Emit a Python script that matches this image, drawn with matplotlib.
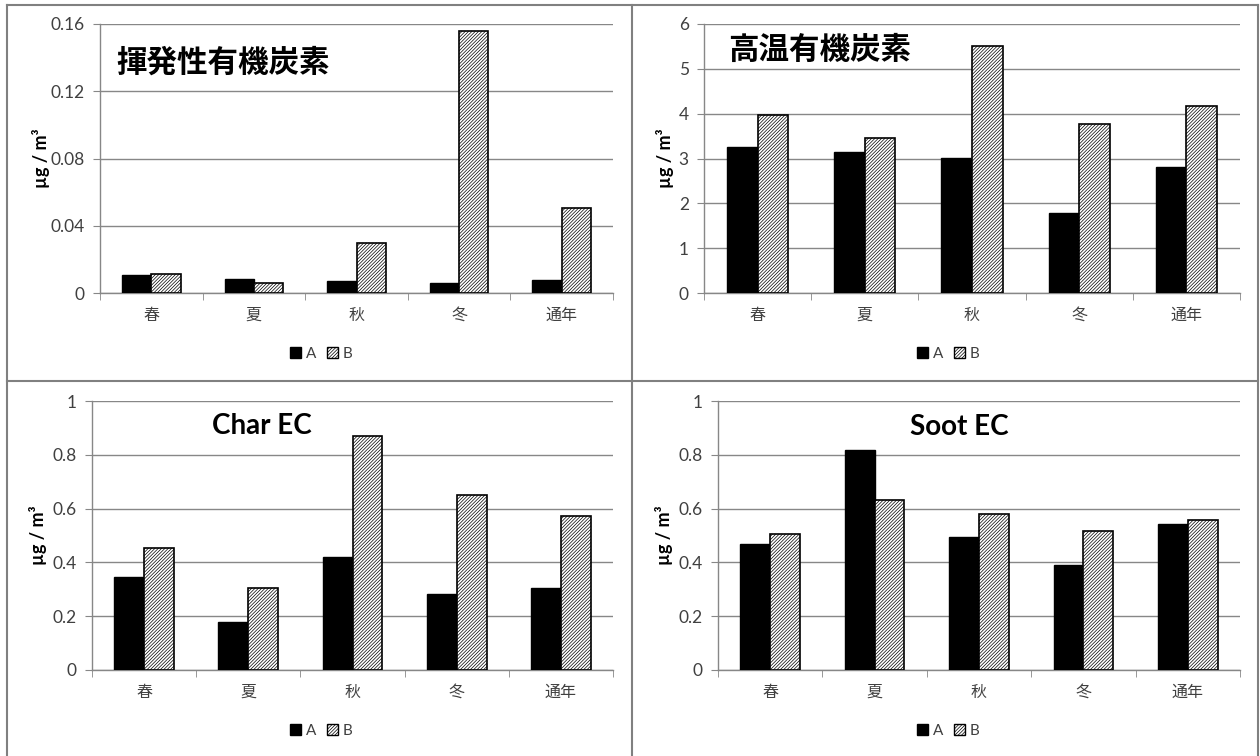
import numpy as np
import matplotlib.pyplot as plt
from matplotlib.lines import Line2D
from matplotlib.patches import Patch

plt.rcParams['font.family'] = ['Lato', 'Noto Sans CJK JP', 'DejaVu Sans']
plt.rcParams['hatch.linewidth'] = 0.5

seasons = ['春', '夏', '秋', '冬', '通年']
series = ['A', 'B']

voc_a = [0.0109, 0.0083, 0.0073, 0.0059, 0.0077]
voc_b = [0.0113, 0.0061, 0.0295, 0.1556, 0.0508]

hoc_a = [3.26, 3.15, 3.02, 1.78, 2.80]
hoc_b = [3.96, 3.46, 5.52, 3.77, 4.18]

char_a = [0.346, 0.178, 0.420, 0.284, 0.305]
char_b = [0.455, 0.304, 0.871, 0.651, 0.571]

soot_a = [0.467, 0.818, 0.494, 0.389, 0.541]
soot_b = [0.504, 0.633, 0.581, 0.518, 0.559]

W, H = 1260, 756
grey = '#878787'
txt = '#404040'
hatch = '//////////'


def px_rect(left, right, top, bottom):
    return [left / W, 1 - bottom / H, (right - left) / W, (bottom - top) / H]


def draw_panel(fig, rect, a, b, ymax, step, fmt, title, title_xy, title_font,
               legend_xy, label_off):
    ax = fig.add_axes(rect)
    x = np.arange(len(seasons))
    w = 0.286
    ax.bar(x - w / 2, a, w, color='black', edgecolor='black', linewidth=1, zorder=3)
    ax.bar(x + w / 2, b, w, color='white', edgecolor='black', linewidth=1.2,
           hatch=hatch, zorder=3)

    ax.set_xlim(-0.5, len(seasons) - 0.5)
    ax.set_ylim(0, ymax)
    yt = np.arange(0, ymax + step / 2, step)
    ax.set_yticks(yt)
    ax.set_yticklabels([fmt(v) for v in yt], fontsize=12.5, color=txt)
    ax.yaxis.grid(True, color=grey, linewidth=1)
    ax.set_axisbelow(True)

    ax.set_xticks(x)
    ax.set_xticklabels(seasons, fontsize=11.5, color=txt, family='Noto Sans CJK JP')
    ax.set_xticks(np.arange(-0.5, len(seasons)), minor=True)
    ax.tick_params(axis='x', which='major', length=0, pad=10)
    ax.tick_params(axis='x', which='minor', length=5, color=grey, direction='out')
    ax.tick_params(axis='y', length=5, color=grey, pad=6)

    for s in ['top', 'right']:
        ax.spines[s].set_visible(False)
    for s in ['left', 'bottom']:
        ax.spines[s].set_color(grey)
        ax.spines[s].set_linewidth(1)

    ax.set_ylabel('µg / m³', fontsize=13, fontweight='bold')
    ax.yaxis.set_label_coords(-label_off / (rect[2] * W), 0.5)

    ax.text(title_xy[0], title_xy[1], title, transform=ax.transAxes,
            ha='left', va='center', fontweight='bold', **title_font)

    handles = [Patch(facecolor='black', edgecolor='black'),
               Patch(facecolor='white', edgecolor='black', hatch=hatch)]
    fig.legend(handles, series, loc='center', ncol=2, frameon=False,
               bbox_to_anchor=(legend_xy[0] / W, 1 - legend_xy[1] / H),
               fontsize=11, handlelength=0.75, handleheight=0.75,
               handletextpad=0.3, columnspacing=0.7, labelcolor=txt)
    return ax


fig = plt.figure(figsize=(12.6, 7.56), dpi=100)

cjk_title = dict(fontsize=22, family='Noto Sans CJK JP')
lat_title = dict(fontsize=20, family='Lato')

draw_panel(fig, px_rect(100, 613, 24, 293), voc_a, voc_b, 0.16, 0.04,
           lambda v: '0' if v == 0 else f'{v:.2f}',
           '揮発性有機炭素', (0.031, 0.855), cjk_title, (321, 354), 50)
draw_panel(fig, px_rect(704, 1240, 24, 293), hoc_a, hoc_b, 6, 1,
           lambda v: f'{v:.0f}',
           '高温有機炭素', (0.045, 0.903), cjk_title, (948, 354), 30)
draw_panel(fig, px_rect(92, 613, 401, 670), char_a, char_b, 1, 0.2,
           lambda v: '0' if v == 0 else ('1' if v == 1 else f'{v:.1f}'),
           'Char EC', (0.23, 0.907), lat_title, (321, 731), 45)
draw_panel(fig, px_rect(718, 1240, 401, 670), soot_a, soot_b, 1, 0.2,
           lambda v: '0' if v == 0 else ('1' if v == 1 else f'{v:.1f}'),
           'Soot EC', (0.368, 0.903), lat_title, (948, 731), 45)

# panel frames
line_kw = dict(color='#808080', linewidth=1.5, transform=fig.transFigure)
fig.add_artist(Line2D([7 / W, 1258 / W], [1 - 5 / H, 1 - 5 / H], **line_kw))
fig.add_artist(Line2D([7 / W, 7 / W], [0, 1 - 5 / H], **line_kw))
fig.add_artist(Line2D([1258 / W, 1258 / W], [0, 1 - 5 / H], **line_kw))
fig.add_artist(Line2D([632 / W, 632 / W], [0, 1 - 5 / H], **line_kw))
fig.add_artist(Line2D([7 / W, 1258 / W], [1 - 381 / H, 1 - 381 / H], **line_kw))

fig.savefig('out.png', dpi=100)
